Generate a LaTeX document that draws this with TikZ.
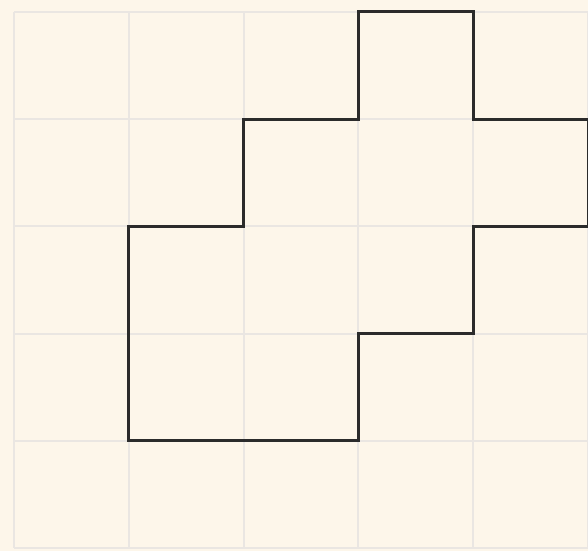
\documentclass[tikz,border=0pt]{standalone}
\definecolor{bgcream}{HTML}{FDF6EA}
\definecolor{gridgray}{HTML}{EAE6E2}
\definecolor{outline}{HTML}{2B2B2B}
\begin{document}
\begin{tikzpicture}[x=1pt,y=-1pt,
  gridline/.style={draw=gridgray,line width=2pt},
  shapeline/.style={draw=outline,line width=3pt,line join=miter}]
\useasboundingbox (0,0) rectangle (588,551);
\fill[bgcream] (0,0) rectangle (588,551);
\foreach \i in {0,...,5} {
  \pgfmathsetmacro{\xx}{14+114.8*\i}
  \pgfmathsetmacro{\yy}{12+107.2*\i}
  \draw[gridline] (\xx,12) -- (\xx,548);
  \draw[gridline] (14,\yy) -- (588,\yy);
}
\begin{scope}[x=114.8pt,y=-107.2pt,shift={(14pt,-12pt)}]
\coordinate (p1) at (3,0);
\coordinate (p2) at (4,0);
\coordinate (p3) at (4,1);
\coordinate (p4) at (5,1);
\coordinate (p5) at (5,2);
\coordinate (p6) at (4,2);
\coordinate (p7) at (4,3);
\coordinate (p8) at (3,3);
\coordinate (p9) at (3,4);
\coordinate (p10) at (1,4);
\coordinate (p11) at (1,2);
\coordinate (p12) at (2,2);
\coordinate (p13) at (2,1);
\coordinate (p14) at (3,1);
\draw[shapeline] (p1) -- (p2) -- (p3) -- (p4) -- (p5) -- (p6) -- (p7) -- (p8) -- (p9) -- (p10) -- (p11) -- (p12) -- (p13) -- (p14) -- cycle;
\end{scope}
\end{tikzpicture}
\end{document}
